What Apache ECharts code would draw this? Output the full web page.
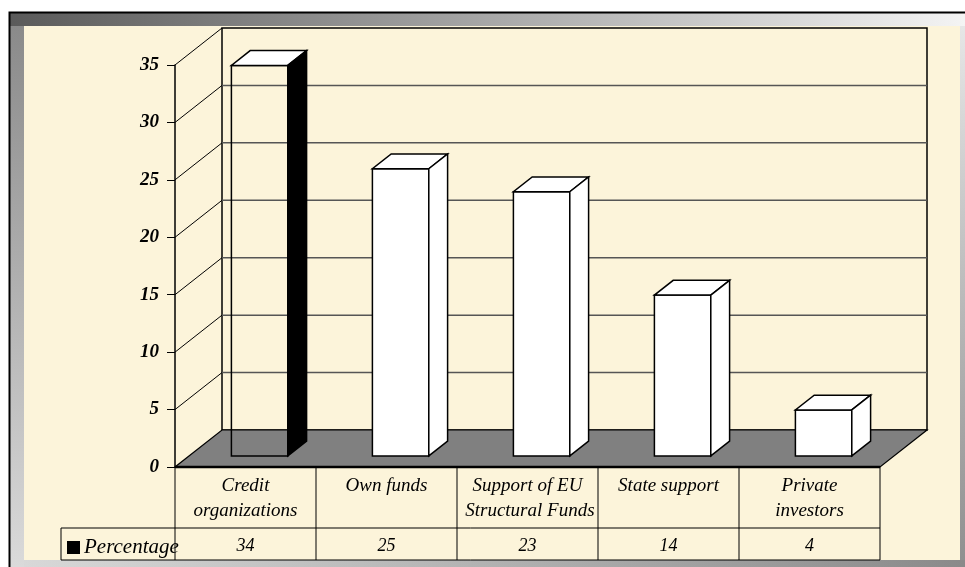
<!DOCTYPE html>
<html>
<head>
<meta charset="utf-8">
<script src="https://cdn.jsdelivr.net/npm/echarts@6/dist/echarts.min.js"></script>
<style>
  html, body { margin: 0; padding: 0; background: #fff; }
  #main { width: 965px; height: 567px; }
</style>
</head>
<body>
<div id="main"></div>
<script>
const categories = ['Credit\norganizations', 'Own funds', 'Support of EU\n Structural Funds', 'State support', 'Private\ninvestors'];
const percentage = [34, 25, 23, 14, 4];
const yTicks = [0, 5, 10, 15, 20, 25, 30, 35];

// depth of the 3d box in pixels
const DX = 47, DY = -37;
const FONT = 'Liberation Serif';

const chart = echarts.init(document.getElementById('main'));

function renderFrame(params, api) {
  const band = api.size([1, 0])[0];
  const x0 = api.coord([0, 0])[0] - band / 2;
  const x1 = api.coord([categories.length - 1, 0])[0] + band / 2;
  const y0 = api.coord([0, 0])[1];
  const yTop = api.coord([0, yTicks[yTicks.length - 1]])[1];
  const kids = [];

  // back wall
  kids.push({ type: 'rect', shape: { x: x0 + DX, y: yTop + DY, width: x1 - x0, height: y0 - yTop },
    style: { fill: 'none', stroke: '#000', lineWidth: 1.5 } });
  yTicks.forEach(function (v) {
    const y = api.coord([0, v])[1];
    if (v > 0 && v < yTicks[yTicks.length - 1]) {
      kids.push({ type: 'line', shape: { x1: x0 + DX, y1: y + DY, x2: x1 + DX, y2: y + DY },
        style: { stroke: '#555', lineWidth: 1.5 } });
    }
    if (v > 0) {
      kids.push({ type: 'line', shape: { x1: x0, y1: y, x2: x0 + DX, y2: y + DY },
        style: { stroke: '#000', lineWidth: 1 } });
    }
  });

  // floor
  kids.push({ type: 'polygon', shape: { points: [[x0, y0], [x1, y0], [x1 + DX, y0 + DY], [x0 + DX, y0 + DY]] },
    style: { fill: '#808080', stroke: '#000', lineWidth: 1.2 } });
  kids.push({ type: 'line', shape: { x1: x0, y1: y0, x2: x1, y2: y0 }, style: { stroke: '#000', lineWidth: 2.5 } });

  // data table
  const r1 = y0 + 61, r2 = y0 + 93, legX = 61;
  kids.push({ type: 'line', shape: { x1: legX, y1: r1, x2: x1, y2: r1 }, style: { stroke: '#000', lineWidth: 1 } });
  kids.push({ type: 'line', shape: { x1: legX, y1: r2, x2: x1, y2: r2 }, style: { stroke: '#000', lineWidth: 1 } });
  kids.push({ type: 'line', shape: { x1: legX, y1: r1, x2: legX, y2: r2 }, style: { stroke: '#000', lineWidth: 1 } });
  for (let k = 0; k <= categories.length; k++) {
    const x = x0 + k * band;
    kids.push({ type: 'line', shape: { x1: x, y1: y0, x2: x, y2: r2 }, style: { stroke: '#000', lineWidth: 1 } });
  }
  return { type: 'group', children: kids };
}

function renderBar(params, api) {
  const idx = api.value(0);
  const top = api.coord([idx, api.value(1)]);
  const base = api.coord([idx, 0]);
  const band = api.size([1, 0])[0];
  const hw = band * 0.2;
  const fx = DX * 0.3, fy = DY * 0.3;
  const dx = DX * 0.4, dy = DY * 0.4;
  const L = top[0] - hw + fx, R = top[0] + hw + fx, T = top[1] + fy, B = base[1] + fy;
  const first = idx === 0;
  return {
    type: 'group',
    children: [
      { type: 'rect', shape: { x: L, y: T, width: R - L, height: B - T },
        style: { fill: first ? 'none' : '#fff', stroke: '#000', lineWidth: 1.5 } },
      { type: 'polygon', shape: { points: [[L, T], [R, T], [R + dx, T + dy], [L + dx, T + dy]] },
        style: { fill: '#fff', stroke: '#000', lineWidth: 1.5 } },
      { type: 'polygon', shape: { points: [[R, T], [R + dx, T + dy], [R + dx, B + dy], [R, B]] },
        style: { fill: first ? '#000' : '#fff', stroke: '#000', lineWidth: 1.5 } },
      { type: 'text', x: base[0], y: base[1] + 79,
        style: { text: String(api.value(1)), fill: '#000', font: 'italic 18px ' + FONT, align: 'center', verticalAlign: 'middle' } }
    ]
  };
}

chart.setOption({
  animation: false,
  backgroundColor: '#fff',
  graphic: [
    { type: 'rect', z: -10, shape: { x: 9, y: 12, width: 956, height: 14 },
      style: { fill: new echarts.graphic.LinearGradient(0, 0, 1, 0, [{ offset: 0, color: '#5a5a5a' }, { offset: 1, color: '#f4f4f4' }]) } },
    { type: 'rect', z: -10, shape: { x: 9, y: 26, width: 15, height: 541 },
      style: { fill: new echarts.graphic.LinearGradient(0, 0, 0, 1, [{ offset: 0, color: '#8a8a8a' }, { offset: 1, color: '#dadada' }]) } },
    { type: 'rect', z: -10, shape: { x: 24, y: 560, width: 941, height: 7 },
      style: { fill: new echarts.graphic.LinearGradient(0, 0, 1, 0, [{ offset: 0, color: '#d8d8d8' }, { offset: 1, color: '#8a8a8a' }]) } },
    { type: 'rect', z: -10, shape: { x: 960, y: 26, width: 5, height: 534 },
      style: { fill: new echarts.graphic.LinearGradient(0, 0, 0, 1, [{ offset: 0, color: '#e6e6e6' }, { offset: 1, color: '#909090' }]) } },
    { type: 'rect', z: -10, shape: { x: 24, y: 26, width: 936, height: 534 }, style: { fill: '#fcf4da' } },
    { type: 'polyline', z: -9, shape: { points: [[9.5, 567], [9.5, 12.5], [965, 12.5]] }, style: { stroke: '#000', lineWidth: 2 } }
  ],
  legend: {
    data: ['Percentage'],
    left: 67, top: 537, padding: 0,
    icon: 'rect', itemWidth: 13, itemHeight: 13, itemGap: 4,
    selectedMode: false,
    textStyle: { fontFamily: FONT, fontStyle: 'italic', fontSize: 21, color: '#000', padding: [0, 0, 0, -1] }
  },
  grid: { left: 175, right: 85, top: 65, bottom: 100 },
  xAxis: {
    type: 'category',
    data: categories,
    axisLine: { show: false },
    axisTick: { show: false },
    axisLabel: { margin: 6, interval: 0, fontFamily: FONT, fontStyle: 'italic', fontSize: 19, lineHeight: 25, color: '#000' }
  },
  yAxis: {
    type: 'value',
    min: 0, max: 35, interval: 5,
    splitLine: { show: false },
    axisLine: { show: true, lineStyle: { color: '#000', width: 1.5 } },
    axisTick: { show: true, length: 8, lineStyle: { color: '#000', width: 1 } },
    axisLabel: { margin: 16, fontFamily: FONT, fontStyle: 'italic', fontWeight: 'bold', fontSize: 19, color: '#000' }
  },
  series: [
    {
      type: 'custom', name: 'frame', z: 1, silent: true,
      renderItem: renderFrame,
      data: [[0, 0]]
    },
    {
      type: 'custom', name: 'Percentage', z: 3,
      itemStyle: { color: '#000' },
      renderItem: renderBar,
      encode: { x: 0, y: 1 },
      data: percentage.map(function (v, i) { return [i, v]; })
    }
  ]
});
</script>
</body>
</html>
